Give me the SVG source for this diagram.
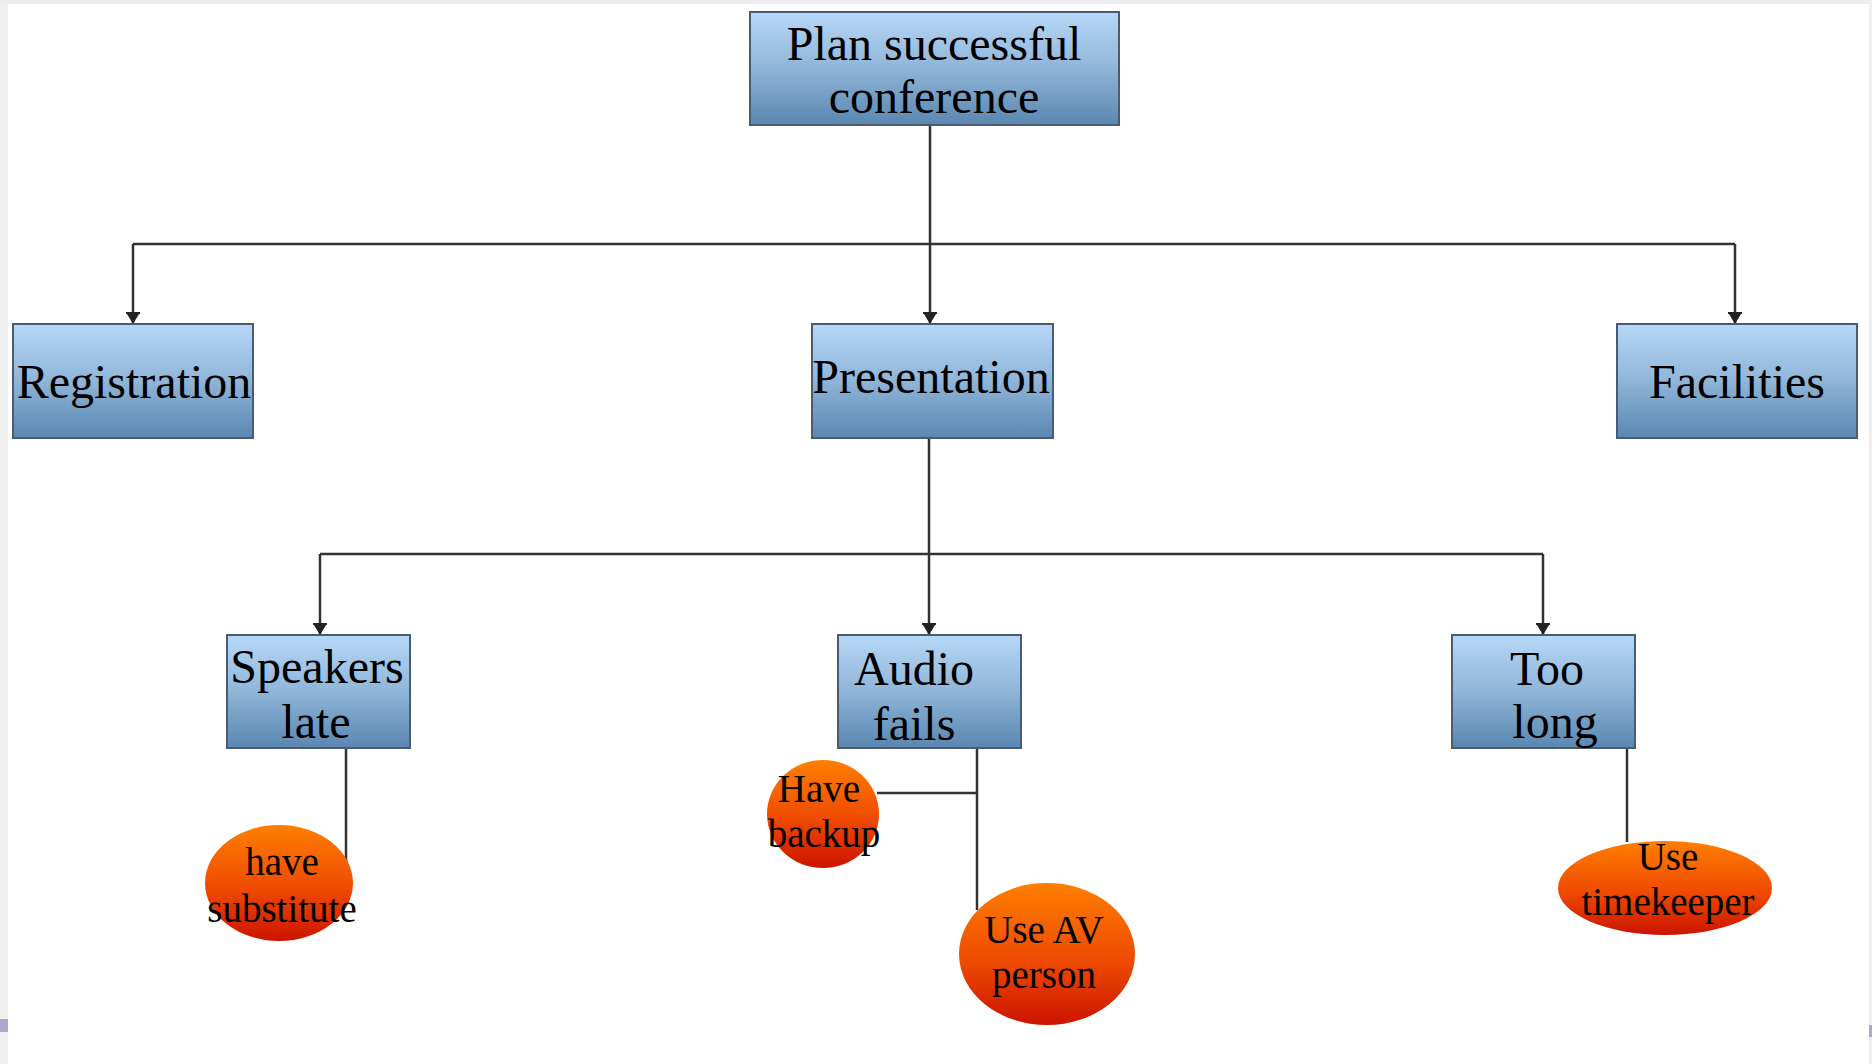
<svg xmlns="http://www.w3.org/2000/svg" width="1872" height="1064" viewBox="0 0 1872 1064">
<style>
.box{stroke:#4a5c72;stroke-width:2;fill:url(#gBox)}
.oval{fill:url(#gOval);stroke:none}
.t{font-family:"Liberation Serif","Times New Roman",serif;fill:#000;text-anchor:middle}
.tb{font-size:48px}
.to{font-size:39px}
.c{fill:none;stroke:#333;stroke-width:2.5}
</style>
<defs>
<linearGradient id="gBox" x1="0" y1="0" x2="0" y2="1">
<stop offset="0" stop-color="#b7d8f8"/>
<stop offset="0.5" stop-color="#8fb5d8"/>
<stop offset="1" stop-color="#5a86b0"/>
</linearGradient>
<linearGradient id="gOval" x1="0" y1="0" x2="0" y2="1">
<stop offset="0" stop-color="#ff7f00"/>
<stop offset="0.55" stop-color="#ee4a00"/>
<stop offset="1" stop-color="#cc1400"/>
</linearGradient>
<marker id="arr" viewBox="0 0 12 14" refX="12" refY="7" markerWidth="12" markerHeight="14" markerUnits="userSpaceOnUse" orient="auto">
<path d="M0,0 L2,0 L2,14 L0,14 Z M2,1 L12,7 L2,13 Z" fill="#222"/>
</marker>
</defs>
<rect x="0" y="0" width="1872" height="1064" fill="#fff"/>
<rect x="0" y="0" width="8" height="1064" fill="#efefef"/>
<rect x="0" y="0" width="1872" height="4" fill="#ededed"/>
<rect x="1869" y="0" width="3" height="1064" fill="#efefef"/>
<rect x="0" y="1019" width="8" height="13" fill="#aaaad0"/>
<rect x="1869" y="1025" width="3" height="12" fill="#aaaad0"/>

<g id="connectors">
<path class="c" d="M930,125 V244"/>
<path class="c" d="M133,244 H1735"/>
<path class="c" d="M133,244 V324" marker-end="url(#arr)"/>
<path class="c" d="M930,244 V324" marker-end="url(#arr)"/>
<path class="c" d="M1735,244 V324" marker-end="url(#arr)"/>
<path class="c" d="M929,438 V554"/>
<path class="c" d="M320,554 H1543"/>
<path class="c" d="M320,554 V635" marker-end="url(#arr)"/>
<path class="c" d="M929,554 V635" marker-end="url(#arr)"/>
<path class="c" d="M1543,554 V635" marker-end="url(#arr)"/>
<path class="c" d="M346,748 V863"/>
<path class="c" d="M977,748 V910"/>
<path class="c" d="M877,793 H977"/>
<path class="c" d="M1627,748 V842"/>
</g>

<g id="plan">
<rect class="box" x="750" y="12" width="369" height="113"/>
<text class="t tb" x="934" y="60">Plan successful</text>
<text class="t tb" x="934" y="113">conference</text>
</g>
<g id="registration">
<rect class="box" x="13" y="324" width="240" height="114"/>
<text class="t tb" x="134" y="398">Registration</text>
</g>
<g id="presentation">
<rect class="box" x="812" y="324" width="241" height="114"/>
<text class="t tb" x="931" y="393">Presentation</text>
</g>
<g id="facilities">
<rect class="box" x="1617" y="324" width="240" height="114"/>
<text class="t tb" x="1737" y="398">Facilities</text>
</g>
<g id="speakers">
<rect class="box" x="227" y="635" width="183" height="113"/>
<text class="t tb" x="317" y="683">Speakers</text>
<text class="t tb" x="316" y="738">late</text>
</g>
<g id="audio">
<rect class="box" x="838" y="635" width="183" height="113"/>
<text class="t tb" x="914" y="685">Audio</text>
<text class="t tb" x="914" y="740">fails</text>
</g>
<g id="toolong">
<rect class="box" x="1452" y="635" width="183" height="113"/>
<text class="t tb" x="1547" y="685">Too</text>
<text class="t tb" x="1555" y="738">long</text>
</g>
<g id="substitute">
<ellipse class="oval" cx="279" cy="883" rx="74" ry="58"/>
<text class="t to" x="282" y="875">have</text>
<text class="t to" x="282" y="922">substitute</text>
</g>
<g id="backup">
<ellipse class="oval" cx="823" cy="814" rx="56" ry="54"/>
<text class="t to" x="819" y="802">Have</text>
<text class="t to" x="824" y="847">backup</text>
</g>
<g id="avperson">
<ellipse class="oval" cx="1047" cy="954" rx="88" ry="71"/>
<text class="t to" x="1044" y="943">Use AV</text>
<text class="t to" x="1044" y="988">person</text>
</g>
<g id="timekeeper">
<ellipse class="oval" cx="1665" cy="888" rx="107" ry="47"/>
<text class="t to" x="1668" y="870">Use</text>
<text class="t to" x="1668" y="915">timekeeper</text>
</g>
</svg>
